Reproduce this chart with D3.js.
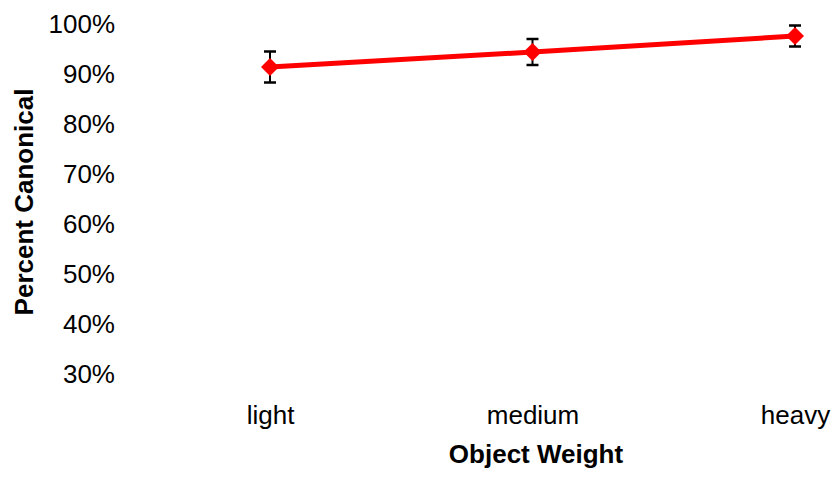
<!DOCTYPE html>
<html>
<head>
<meta charset="utf-8">
<script src="https://cdn.jsdelivr.net/npm/d3@7"></script>
<style>
  body { margin: 0; background: #fff; }
  svg { display: block; font-family: "Liberation Sans", Arial, sans-serif; }
</style>
</head>
<body>
<svg id="viz" width="837" height="477"></svg>
<script>
// Data
const categories = ['light', 'medium', 'heavy'];
const values = [91.4, 94.4, 97.6];
const errors = [3.1, 2.6, 2.1];
const yTicks = [30, 40, 50, 60, 70, 80, 90, 100];

const svg = d3.select('#viz');
const fontSize = '26px';

const x = d3.scalePoint().domain(categories).range([270, 795]);
const y = d3.scaleLinear().domain([30, 100]).range([374, 24]);

// Y tick labels (no axis line)
const yAxis = svg.append('g')
  .attr('transform', 'translate(115,0)')
  .call(d3.axisLeft(y).tickValues(yTicks).tickFormat(d => d + '%').tickSize(0).tickPadding(0));
yAxis.select('.domain').remove();
yAxis.selectAll('text').style('font-size', fontSize).style('font-family', '"Liberation Sans", Arial, sans-serif').attr('fill', '#000');

// X tick labels
const xAxis = svg.append('g')
  .attr('transform', 'translate(0,406)')
  .call(d3.axisBottom(x).tickSize(0).tickPadding(0));
xAxis.select('.domain').remove();
xAxis.selectAll('text').style('font-size', fontSize).style('font-family', '"Liberation Sans", Arial, sans-serif').attr('fill', '#000');

// Axis titles
svg.append('text')
  .attr('x', 536).attr('y', 463)
  .attr('text-anchor', 'middle')
  .style('font-size', fontSize).style('font-weight', 'bold')
  .text('Object Weight');

svg.append('text')
  .attr('transform', 'translate(33,202) rotate(-90)')
  .attr('text-anchor', 'middle')
  .style('font-size', fontSize).style('font-weight', 'bold')
  .text('Percent Canonical');

const points = categories.map((c, i) => ({ c, v: values[i], e: errors[i] }));

// Line
svg.append('path')
  .datum(points)
  .attr('d', d3.line().x(d => x(d.c)).y(d => y(d.v)))
  .attr('fill', 'none').attr('stroke', '#ff0000').attr('stroke-width', 5);

// Error bars
const eb = svg.append('g').selectAll('g').data(points).enter().append('g');
eb.append('line')
  .attr('x1', d => x(d.c)).attr('x2', d => x(d.c))
  .attr('y1', d => y(d.v + d.e)).attr('y2', d => y(d.v - d.e))
  .attr('stroke', '#000').attr('stroke-width', 2);
[1, -1].forEach(s => {
  eb.append('line')
    .attr('x1', d => x(d.c) - 6).attr('x2', d => x(d.c) + 6)
    .attr('y1', d => y(d.v + s * d.e)).attr('y2', d => y(d.v + s * d.e))
    .attr('stroke', '#000').attr('stroke-width', 2.5);
});

// Diamond markers
svg.append('g').selectAll('path').data(points).enter().append('path')
  .attr('transform', d => `translate(${x(d.c)},${y(d.v)})`)
  .attr('d', 'M0,-9L9,0L0,9L-9,0Z')
  .attr('fill', '#ff0000');
</script>
</body>
</html>
